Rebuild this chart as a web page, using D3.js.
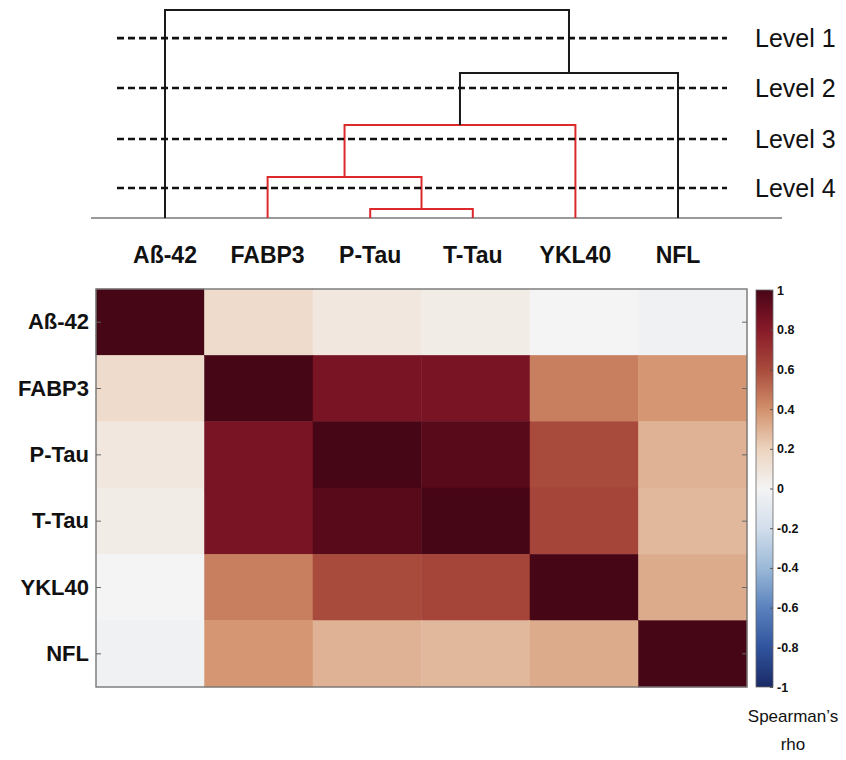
<!DOCTYPE html>
<html>
<head>
<meta charset="utf-8">
<script src="https://cdn.jsdelivr.net/npm/d3@7"></script>
<style>
  html, body { margin: 0; padding: 0; background: #fff; }
  svg { display: block; font-family: "Liberation Sans", Arial, Helvetica, sans-serif; }
</style>
</head>
<body>
<svg id="chart" width="846" height="760"></svg>
<script>
// ---------------- DATA ----------------
const variables = ["Aß-42", "FABP3", "P-Tau", "T-Tau", "YKL40", "NFL"];

// Spearman's rho matrix (rows / columns in the order of `variables`)
const rhoAb42  = [ 1.00, 0.15, 0.08, 0.05, 0.00, -0.03];
const rhoFABP3 = [ 0.15, 1.00, 0.85, 0.85, 0.45,  0.38];
const rhoPTau  = [ 0.08, 0.85, 1.00, 0.95, 0.60,  0.30];
const rhoTTau  = [ 0.05, 0.85, 0.95, 1.00, 0.62,  0.28];
const rhoYKL40 = [ 0.00, 0.45, 0.60, 0.62, 1.00,  0.32];
const rhoNFL   = [-0.03, 0.38, 0.30, 0.28, 0.32,  1.00];
const rhoRows = [rhoAb42, rhoFABP3, rhoPTau, rhoTTau, rhoYKL40, rhoNFL];

// Dendrogram merges: [left child, right child, linkage height]
const mergeLeft    = ["P-Tau", "FABP3", "m1",    "m2",  "Aß-42"];
const mergeRight   = ["T-Tau", "m0",    "YKL40", "NFL", "m3"];
const mergeHeights = [0.043,   0.197,   0.447,   0.697, 1.0];
const colorThreshold = 0.6;

// Cut levels
const levelNames   = ["Level 1", "Level 2", "Level 3", "Level 4"];
const levelHeights = [0.865, 0.625, 0.38, 0.144];

// Colour bar ticks
const cbarTicks  = [1, 0.8, 0.6, 0.4, 0.2, 0, -0.2, -0.4, -0.6, -0.8, -1];
const cbarLabels = ["1", "0.8", "0.6", "0.4", "0.2", "0", "-0.2", "-0.4", "-0.6", "-0.8", "-1"];
const cbarTitle  = ["Spearman\u2019s", "rho"];

// ---------------- STYLE / LAYOUT ----------------
const svg = d3.select("#chart");
const colorStops = [
  [-1.0, "#1b2a66"], [-0.8, "#30549e"], [-0.6, "#5b82bd"], [-0.4, "#9bb9d8"],
  [-0.2, "#d2deec"], [0.0, "#f4f4f4"], [0.2, "#ecd3be"], [0.4, "#d2906b"],
  [0.6, "#a84a3c"], [0.8, "#881a28"], [0.9, "#690e20"], [1.0, "#470616"]
];
const color = d3.scaleLinear()
  .domain(colorStops.map(d => d[0]))
  .range(colorStops.map(d => d[1]))
  .interpolate(d3.interpolateRgb)
  .clamp(true);

// Heatmap scales
const hx = d3.scaleBand().domain(variables).range([96, 747]);
const hy = d3.scaleBand().domain(variables).range([289, 687]);

// Dendrogram scales
const dx = d3.scalePoint().domain(variables).range([165, 678]);
const dy = d3.scaleLinear().domain([0, 1]).range([218, 10]);

// ---------------- DENDROGRAM ----------------
const nodes = {};
variables.forEach(v => nodes[v] = { x: dx(v), h: 0 });
const links = [];
mergeHeights.forEach((h, i) => {
  const a = nodes[mergeLeft[i]], b = nodes[mergeRight[i]];
  const node = { x: (a.x + b.x) / 2, h: h };
  nodes["m" + i] = node;
  links.push({ a, b, h, red: h < colorThreshold });
});

const dendro = svg.append("g");
// baseline
dendro.append("line")
  .attr("x1", 91).attr("x2", 782)
  .attr("y1", dy(0)).attr("y2", dy(0))
  .attr("stroke", "#9a9a9a").attr("stroke-width", 2);

// dashed cut levels
const lv = svg.append("g");
lv.selectAll("line").data(levelHeights).join("line")
  .attr("x1", 117).attr("x2", 727)
  .attr("y1", d => dy(d)).attr("y2", d => dy(d))
  .attr("stroke", "#111").attr("stroke-width", 2.6)
  .attr("stroke-dasharray", "7,4");
lv.selectAll("text").data(levelNames).join("text")
  .attr("x", 755)
  .attr("y", (d, i) => dy(levelHeights[i]))
  .attr("dy", "0.36em")
  .attr("font-size", 25)
  .attr("fill", "#111")
  .text(d => d);

// U-shaped links
dendro.selectAll("path.link").data(links).join("path")
  .attr("class", "link")
  .attr("fill", "none")
  .attr("stroke", d => d.red ? "#dc2a2c" : "#1a1a1a")
  .attr("stroke-width", 2)
  .attr("d", d => {
    const p = d3.path();
    p.moveTo(d.a.x, dy(d.a.h));
    p.lineTo(d.a.x, dy(d.h));
    p.lineTo(d.b.x, dy(d.h));
    p.lineTo(d.b.x, dy(d.b.h));
    return p.toString();
  });

// leaf labels
svg.append("g").selectAll("text").data(variables).join("text")
  .attr("x", d => dx(d))
  .attr("y", 263)
  .attr("text-anchor", "middle")
  .attr("font-size", 23)
  .attr("font-weight", "bold")
  .attr("fill", "#111")
  .text(d => d);

// ---------------- HEATMAP ----------------
const cells = [];
rhoRows.forEach((row, i) => row.forEach((v, j) => cells.push({ r: variables[i], c: variables[j], v })));
svg.append("g").selectAll("rect").data(cells).join("rect")
  .attr("x", d => hx(d.c))
  .attr("y", d => hy(d.r))
  .attr("width", hx.bandwidth())
  .attr("height", hy.bandwidth())
  .attr("fill", d => color(d.v))
  .attr("stroke", d => color(d.v))
  .attr("stroke-width", 0.5);

// frame
svg.append("rect")
  .attr("x", 96).attr("y", 289).attr("width", 651).attr("height", 398)
  .attr("fill", "none").attr("stroke", "#777").attr("stroke-width", 1.4);

// left axis
const axL = svg.append("g").attr("transform", "translate(96,0)")
  .call(d3.axisLeft(hy).tickSizeInner(-5).tickSizeOuter(0).tickPadding(7));
axL.select(".domain").remove();
axL.selectAll("line").attr("stroke", "#666");
axL.selectAll("text")
  .attr("font-size", 22).attr("font-weight", "bold").attr("fill", "#111")
  .attr("font-family", "Liberation Sans, Arial, sans-serif");

// right axis ticks
const axR = svg.append("g").attr("transform", "translate(747,0)")
  .call(d3.axisRight(hy).tickSizeInner(-5).tickSizeOuter(0).tickFormat(""));
axR.select(".domain").remove();
axR.selectAll("line").attr("stroke", "#666");

// ---------------- COLOR BAR ----------------
const cy = d3.scaleLinear().domain([-1, 1]).range([687, 290]);
const defs = svg.append("defs");
const grad = defs.append("linearGradient").attr("id", "cbar")
  .attr("x1", 0).attr("y1", 1).attr("x2", 0).attr("y2", 0);
grad.selectAll("stop").data(colorStops).join("stop")
  .attr("offset", d => (d[0] + 1) / 2)
  .attr("stop-color", d => d[1]);
svg.append("rect")
  .attr("x", 756).attr("y", cy(1)).attr("width", 17).attr("height", cy(-1) - cy(1))
  .attr("fill", "url(#cbar)").attr("stroke", "#666").attr("stroke-width", 0.8);

const axC = svg.append("g").attr("transform", "translate(773,0)")
  .call(d3.axisRight(cy).tickValues(cbarTicks)
    .tickFormat((d, i) => cbarLabels[i]).tickSizeInner(-3).tickSizeOuter(0).tickPadding(4));
axC.select(".domain").remove();
axC.selectAll("line").attr("stroke", "#555");
axC.selectAll("text")
  .attr("font-size", 12.5).attr("font-weight", "bold").attr("fill", "#111")
  .attr("font-family", "Liberation Sans, Arial, sans-serif");

svg.append("g").selectAll("text").data(cbarTitle).join("text")
  .attr("x", 793)
  .attr("y", (d, i) => 722 + i * 28)
  .attr("text-anchor", "middle")
  .attr("font-size", 17)
  .attr("fill", "#111")
  .text(d => d);
</script>
</body>
</html>
